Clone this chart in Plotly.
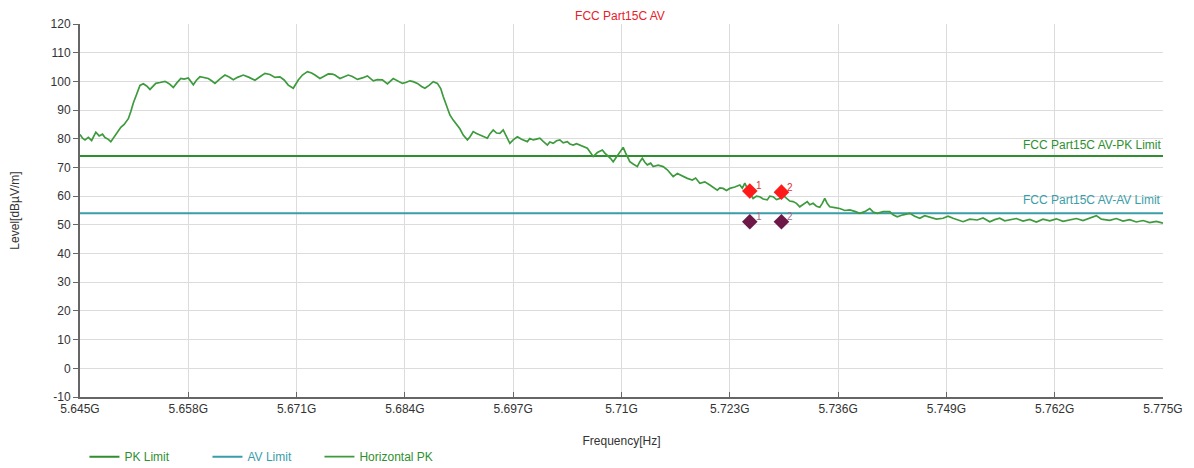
import plotly.graph_objects as go

# ---- data ----
freq_mhz = [
    5645.0, 5645.3, 5645.6, 5646.0, 5646.4, 5646.9, 5647.3, 5647.7, 5648.0, 5648.4,
    5648.7, 5649.0, 5649.4, 5649.9, 5650.3, 5650.8, 5651.1, 5651.4, 5651.8, 5652.2,
    5652.6, 5653.0, 5653.4, 5653.8, 5654.1, 5654.6, 5655.2, 5655.7, 5656.2, 5656.6,
    5657.1, 5657.5, 5658.0, 5658.6, 5659.0, 5659.4, 5659.9, 5660.4, 5660.8, 5661.2,
    5661.8, 5662.4, 5662.9, 5663.4, 5663.9, 5664.6, 5665.3, 5666.0, 5666.6, 5667.2,
    5667.8, 5668.4, 5669.0, 5669.5, 5670.0, 5670.6, 5671.2, 5671.7, 5672.3, 5672.8,
    5673.2, 5673.8, 5674.3, 5674.8, 5675.3, 5675.6, 5676.2, 5676.7, 5677.2, 5677.7,
    5678.3, 5678.9, 5679.5, 5680.2, 5680.7, 5681.3, 5681.9, 5682.6, 5683.1, 5683.7,
    5684.1, 5684.6, 5685.0, 5685.5, 5686.0, 5686.4, 5686.9, 5687.4, 5687.9, 5688.3,
    5688.6, 5689.0, 5689.4, 5689.8, 5690.3, 5690.6, 5691.0, 5691.5, 5691.8, 5692.2,
    5692.6, 5693.0, 5693.4, 5693.9, 5694.2, 5694.6, 5695.0, 5695.4, 5695.8, 5696.2,
    5696.6, 5697.0, 5697.5, 5698.0, 5698.7, 5699.0, 5699.4, 5699.8, 5700.2, 5700.6,
    5701.1, 5701.4, 5701.8, 5702.2, 5702.6, 5703.0, 5703.5, 5703.8, 5704.2, 5704.6,
    5705.0, 5705.4, 5705.9, 5706.2, 5706.6, 5707.1, 5707.7, 5708.0, 5708.3, 5708.7,
    5709.0, 5709.4, 5709.8, 5710.2, 5710.5, 5711.0, 5711.4, 5711.9, 5712.2, 5712.5,
    5712.8, 5713.1, 5713.5, 5713.8, 5714.4, 5715.0, 5715.5, 5716.2, 5716.7, 5717.4,
    5717.9, 5718.5, 5718.9, 5719.4, 5720.0, 5720.6, 5721.0, 5721.5, 5721.8, 5722.2,
    5722.6, 5723.0, 5723.6, 5724.2, 5724.5, 5724.8, 5725.3, 5725.8, 5726.2, 5726.6,
    5727.0, 5727.5, 5727.8, 5728.2, 5728.6, 5729.0, 5729.4, 5729.9, 5730.2, 5730.6,
    5731.0, 5731.4, 5731.8, 5732.3, 5732.6, 5733.0, 5733.4, 5733.8, 5734.1, 5734.4,
    5734.7, 5735.0, 5735.6, 5736.2, 5736.8, 5737.4, 5738.0, 5738.6, 5739.2, 5739.8,
    5740.2, 5740.7, 5741.4, 5742.2, 5742.6, 5743.1, 5743.8, 5744.6, 5745.2, 5745.8,
    5746.4, 5747.0, 5747.8, 5748.6, 5749.2, 5749.8, 5750.4, 5751.0, 5751.8, 5752.7,
    5753.4, 5754.2, 5754.8, 5755.4, 5756.0, 5756.6, 5757.4, 5758.2, 5759.0, 5759.8,
    5760.6, 5761.4, 5762.2, 5763.0, 5763.8, 5764.6, 5765.4, 5766.2, 5767.0, 5767.6,
    5768.6, 5769.4, 5770.2, 5771.0, 5771.8, 5772.6, 5773.4, 5774.2, 5775.0,
]
level_dbuv = [
    81.5, 80.2, 79.6, 80.5, 79.4, 82.3, 81.0, 81.6, 80.4, 79.8,
    79.0, 80.2, 82.0, 84.0, 85.0, 87.0, 89.5, 92.5, 95.5, 98.6,
    99.2, 98.4, 97.2, 98.3, 99.3, 99.6, 100.0, 99.2, 97.9, 99.4,
    101.0, 100.8, 101.2, 98.8, 100.5, 101.6, 101.3, 101.0, 100.2, 99.3,
    100.9, 102.2, 101.5, 100.6, 101.4, 102.2, 101.4, 100.4, 101.6, 102.8,
    102.4, 101.4, 101.6, 100.5, 98.7, 97.6, 100.5, 102.2, 103.4, 102.9,
    102.2, 101.0, 101.8, 102.6, 102.5, 102.2, 101.0, 101.6, 102.2, 101.7,
    100.7, 101.2, 101.9, 100.2, 100.6, 100.5, 99.1, 101.0, 100.3, 99.3,
    99.6, 100.2, 99.9, 99.3, 98.2, 97.6, 98.6, 99.9, 99.3, 97.5,
    94.7, 91.5, 88.3, 86.5, 84.8, 83.5, 81.3, 79.6, 80.6, 82.5,
    81.8, 81.3, 80.9, 80.2, 81.7, 83.1, 82.0, 81.9, 83.1, 80.9,
    78.4, 79.6, 80.7, 79.8, 79.0, 80.1, 79.6, 79.9, 80.2, 79.1,
    77.8, 78.9, 78.4, 79.3, 79.6, 78.6, 79.0, 78.2, 77.8, 78.3,
    77.8, 77.2, 76.7, 75.5, 73.8, 75.2, 76.1, 75.0, 74.3, 73.1,
    72.0, 73.8, 75.5, 77.0, 75.0, 72.0, 71.2, 70.3, 72.0, 73.2,
    71.8, 70.9, 71.5, 70.3, 70.8, 70.3, 69.2, 66.8, 67.9, 66.8,
    66.2, 65.6, 66.3, 64.5, 65.0, 63.9, 63.2, 62.1, 62.9, 62.7,
    62.0, 62.7, 63.2, 63.9, 62.8, 64.5, 61.5, 59.2, 60.0, 59.8,
    59.0, 58.7, 60.0, 59.8, 58.8, 59.2, 60.3, 59.2, 58.3, 58.1,
    57.5, 56.3, 57.2, 58.1, 57.0, 57.5, 56.5, 56.1, 57.5, 59.2,
    57.4, 56.3, 56.0, 55.7, 55.0, 55.2, 54.7, 54.0, 54.6, 55.7,
    54.5, 54.0, 54.6, 54.6, 53.5, 52.8, 53.5, 54.0, 53.0, 52.3,
    53.2, 52.8, 52.0, 52.3, 53.0, 52.3, 51.6, 51.1, 52.0, 51.7,
    52.4, 51.1, 51.8, 52.3, 51.4, 51.7, 52.2, 51.3, 51.9, 51.0,
    52.0, 51.4, 52.1, 51.2, 51.8, 52.2, 51.5, 52.4, 53.2, 52.0,
    51.6, 52.2, 51.3, 51.8, 51.0, 51.5, 50.8, 51.2, 50.6,
]

pk_limit = 74.0
av_limit = 54.0

marker_freq_mhz = [5725.4, 5729.2]
marker_pk_level = [61.8, 61.4]
marker_av_level = [51.1, 51.1]
marker_labels = ["1", "2"]

x_tick_vals = [5645, 5658, 5671, 5684, 5697, 5710, 5723, 5736, 5749, 5762, 5775]
x_tick_text = ["5.645G", "5.658G", "5.671G", "5.684G", "5.697G", "5.71G",
               "5.723G", "5.736G", "5.749G", "5.762G", "5.775G"]
y_tick_vals = [-10, 0, 10, 20, 30, 40, 50, 60, 70, 80, 90, 100, 110, 120]
y_tick_text = ["-10", "0", "10", "20", "30", "40", "50", "60", "70", "80",
               "90", "100", "110", "120"]

# ---- styles ----
PK_COLOR = "#2f8f2f"
AV_COLOR = "#3a9ea8"
TRACE_COLOR = "#3d9a3d"
FONT = "Liberation Sans, Arial, sans-serif"

fig = go.Figure()

x_range = [x_tick_vals[0], x_tick_vals[-1]]

fig.add_trace(go.Scatter(
    x=x_range, y=[pk_limit, pk_limit], mode="lines",
    line=dict(color=PK_COLOR, width=2),
    name="<span style='color:%s'>PK Limit</span>" % PK_COLOR,
    legend="legend",
))
fig.add_trace(go.Scatter(
    x=x_range, y=[av_limit, av_limit], mode="lines",
    line=dict(color=AV_COLOR, width=2),
    name="<span style='color:%s'>AV Limit</span>" % AV_COLOR,
    legend="legend2",
))
fig.add_trace(go.Scatter(
    x=freq_mhz, y=level_dbuv, mode="lines",
    line=dict(color=TRACE_COLOR, width=1.7),
    name="<span style='color:%s'>Horizontal PK</span>" % PK_COLOR,
    legend="legend3",
))
fig.add_trace(go.Scatter(
    x=marker_freq_mhz, y=marker_pk_level, mode="markers",
    marker=dict(symbol="diamond", size=12, color="#ff1a1a"),
    showlegend=False,
))
fig.add_trace(go.Scatter(
    x=marker_freq_mhz, y=marker_av_level, mode="markers",
    marker=dict(symbol="diamond", size=12, color="#6e1848"),
    showlegend=False,
))
for fx, fy, lab in zip(marker_freq_mhz, marker_pk_level, marker_labels):
    fig.add_annotation(x=fx, y=fy, text=lab, showarrow=False, xanchor="left",
                       yanchor="middle", xshift=4, yshift=5,
                       font=dict(color="#e03030", size=10, family=FONT))
for fx, fy, lab in zip(marker_freq_mhz, marker_av_level, marker_labels):
    fig.add_annotation(x=fx, y=fy, text=lab, showarrow=False, xanchor="left",
                       yanchor="middle", xshift=4, yshift=5,
                       font=dict(color="#9a6a8a", size=10, family=FONT))

fig.add_annotation(x=x_range[1], y=pk_limit, xref="x", yref="y",
                   text="FCC Part15C AV-PK Limit", showarrow=False,
                   xanchor="right", yanchor="bottom", yshift=2,
                   font=dict(color=PK_COLOR, size=12, family=FONT))
fig.add_annotation(x=x_range[1], y=av_limit, xref="x", yref="y",
                   text="FCC Part15C AV-AV Limit", showarrow=False,
                   xanchor="right", yanchor="bottom", yshift=4,
                   font=dict(color=AV_COLOR, size=12, family=FONT))

legend_common = dict(orientation="h", xanchor="left", y=-0.121, yanchor="top",
                     font=dict(size=12, family=FONT), itemwidth=30,
                     bgcolor="rgba(0,0,0,0)")

fig.update_layout(
    width=1186, height=460,
    margin=dict(l=72, r=31, t=16, b=71, autoexpand=False),
    paper_bgcolor="white", plot_bgcolor="white",
    font=dict(family=FONT, size=12, color="#333333"),
    title=dict(text="FCC Part15C AV", x=0.516, xanchor="center", y=0.984, yanchor="middle",
               font=dict(color="#e8202a", size=12, family=FONT)),
    showlegend=True,
    legend=dict(x=0.0041, **legend_common),
    legend2=dict(x=0.1177, **legend_common),
    legend3=dict(x=0.2211, **legend_common),
    xaxis=dict(
        range=x_range, tickvals=x_tick_vals, ticktext=x_tick_text,
        showgrid=True, gridcolor="#dcdcdc", gridwidth=1.2,
        showline=True, linecolor="#666666", linewidth=2,
        ticks="inside", ticklen=5, tickcolor="#666666",
        title=dict(text="Frequency[Hz]", standoff=21, font=dict(size=12)),
        zeroline=False, mirror=False,
    ),
    yaxis=dict(
        range=[-10, 120], tickvals=y_tick_vals, ticktext=y_tick_text,
        showgrid=True, gridcolor="#dcdcdc", gridwidth=1.2,
        showline=True, linecolor="#666666", linewidth=2,
        ticks="outside", ticklen=5, tickcolor="#666666",
        title=dict(text="Level[dBµV/m]", standoff=33, font=dict(size=12)),
        zeroline=False,
    ),
)

fig.write_html("out.html")
